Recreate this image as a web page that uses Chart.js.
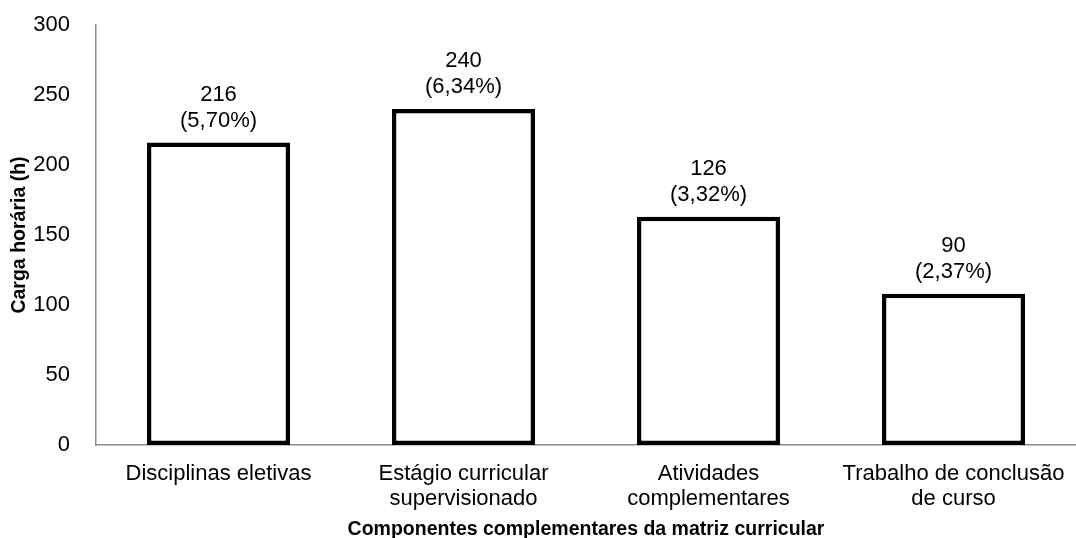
<!DOCTYPE html>
<html>
<head>
<meta charset="utf-8">
<script src="https://cdn.jsdelivr.net/npm/chart.js@4.4.1/dist/chart.umd.min.js"></script>
<style>
  html, body { margin: 0; padding: 0; background: #fff; }
  #wrap { width: 1076px; height: 538px; }
</style>
</head>
<body>
<div id="wrap"><canvas id="chart"></canvas></div>
<script>
// componentes e carga horária
const categorias = [
    ['Disciplinas eletivas'],
    ['Estágio curricular', 'supervisionado'],
    ['Atividades', 'complementares'],
    ['Trabalho de conclusão', 'de curso']
];
const alturas = [216, 240, 163, 108];
const rotulosHoras = ['216', '240', '126', '90'];
const rotulosPct = ['(5,70%)', '(6,34%)', '(3,32%)', '(2,37%)'];
const ticksY = [0, 50, 100, 150, 200, 250, 300];

const fonte = 'Arial, "Liberation Sans", sans-serif';
const corEixo = '#8c8c8c';

// rótulos em cima das barras, posição tirada dos elementos do gráfico
const rotulosPlugin = {
    id: 'rotulos',
    afterDatasetsDraw(chart) {
        const ctx = chart.ctx;
        const meta = chart.getDatasetMeta(0);
        ctx.save();
        ctx.fillStyle = '#000';
        ctx.font = '22px ' + fonte;
        ctx.textAlign = 'center';
        ctx.textBaseline = 'middle';
        meta.data.forEach((bar, i) => {
            ctx.fillText(rotulosPct[i], bar.x, bar.y - 22);
            ctx.fillText(rotulosHoras[i], bar.x, bar.y - 48);
        });
        ctx.restore();
    }
};

new Chart(document.getElementById('chart'), {
    type: 'bar',
    data: {
        labels: categorias,
        datasets: [{
            data: alturas,
            backgroundColor: '#ffffff',
            borderColor: '#000000',
            borderWidth: 4.5,
            borderSkipped: false,
            barPercentage: 0.584,
            categoryPercentage: 1
        }]
    },
    options: {
        responsive: true,
        maintainAspectRatio: false,
        animation: false,
        layout: { padding: { top: 25, right: 0, left: 0, bottom: 0 } },
        plugins: {
            legend: { display: false },
            tooltip: { enabled: false }
        },
        scales: {
            x: {
                grid: { display: false },
                border: { display: true, color: corEixo, width: 1.5 },
                ticks: {
                    color: '#000',
                    padding: 8,
                    maxRotation: 0,
                    autoSkip: false,
                    font: { family: fonte, size: 22, lineHeight: 1.15 }
                },
                title: {
                    display: true,
                    text: 'Componentes complementares da matriz curricular',
                    color: '#000',
                    padding: { top: 4, bottom: -3 },
                    font: { family: fonte, size: 19.5, weight: 'bold' }
                },
                afterFit(scale) { scale.height = 93; }
            },
            y: {
                min: 0,
                max: 300,
                afterBuildTicks(scale) {
                    scale.ticks = ticksY.map(v => ({ value: v }));
                },
                grid: { display: false },
                border: { display: true, color: corEixo, width: 1.5 },
                ticks: {
                    color: '#000',
                    padding: 18,
                    font: { family: fonte, size: 22 }
                },
                title: {
                    display: true,
                    text: 'Carga horária (h)',
                    color: '#000',
                    padding: { top: 8, bottom: 0 },
                    font: { family: fonte, size: 19.5, weight: 'bold' }
                },
                afterFit(scale) {
                    scale.width = 96;
                    scale.paddingTop = 0;
                    scale.paddingBottom = 0;
                }
            }
        }
    },
    plugins: [rotulosPlugin]
});
</script>
</body>
</html>
